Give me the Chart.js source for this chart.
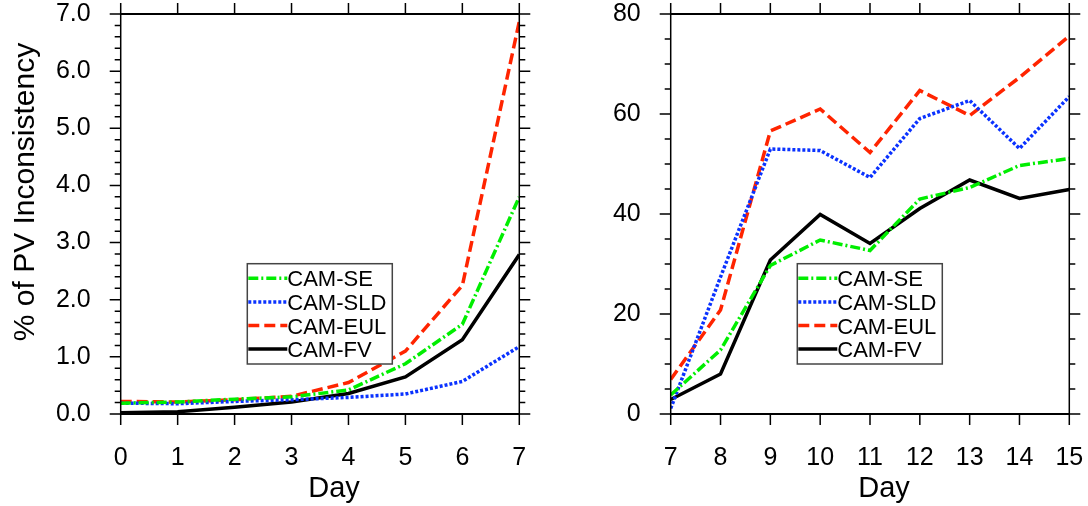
<!DOCTYPE html>
<html>
<head>
<meta charset="utf-8">
<script src="https://cdn.jsdelivr.net/npm/chart.js@4.4.0/dist/chart.umd.min.js"></script>
<style>
  html, body { margin: 0; padding: 0; background: #fff; }
  #wrap { position: relative; width: 1088px; height: 506px; }
  canvas { position: absolute; top: 0; }
  #early { left: 0; }
  #late { left: 544px; }
</style>
</head>
<body>
<div id="wrap">
  <canvas id="early" width="544" height="506"></canvas>
  <canvas id="late" width="544" height="506"></canvas>
</div>
<script>
// ==========================================
// Data
// ==========================================
const seriesNames = ['CAM-SE', 'CAM-SLD', 'CAM-EUL', 'CAM-FV'];

// days 0-7 (left panel, %)
const daysEarly = [0, 1, 2, 3, 4, 5, 6, 7];
const seEarly  = [0.19, 0.21, 0.26, 0.30, 0.42, 0.88, 1.57, 3.80];
const sldEarly = [0.19, 0.18, 0.22, 0.25, 0.29, 0.35, 0.57, 1.18];
const eulEarly = [0.22, 0.21, 0.25, 0.31, 0.55, 1.10, 2.25, 6.87];
const fvEarly  = [0.02, 0.04, 0.12, 0.21, 0.36, 0.65, 1.30, 2.79];
const yTicksEarly = [0, 1, 2, 3, 4, 5, 6, 7];

// days 7-15 (right panel, %)
const daysLate = [7, 8, 9, 10, 11, 12, 13, 14, 15];
const seLate  = [3.8, 12.8, 29.7, 34.8, 32.7, 43.0, 45.3, 49.7, 51.1];
const sldLate = [1.1, 27.4, 53.0, 52.7, 47.3, 59.1, 62.7, 53.1, 63.5];
const eulLate = [6.9, 20.8, 56.6, 61.0, 52.3, 64.7, 59.7, 67.3, 75.6];
const fvLate  = [2.9, 8.0, 30.8, 39.9, 34.1, 41.1, 46.8, 43.1, 44.9];
const yTicksLate = [0, 20, 40, 60, 80];

// ==========================================
// Styles
// ==========================================
const FONT = '"Liberation Sans", Arial, Helvetica, sans-serif';
const lineStyles = [
  { color: '#00ee00', dash: [10, 3, 2, 3] },  // SE  dash-dot
  { color: '#0a32ff', dash: [3, 2] },         // SLD dotted
  { color: '#ff2400', dash: [11, 5] },        // EUL dashed
  { color: '#000000', dash: [] }              // FV  solid
];

function buildDatasets(days, seriesList) {
  return seriesList.map((vals, i) => ({
    label: seriesNames[i],
    data: vals.map((v, k) => ({ x: days[k], y: v })),
    borderColor: lineStyles[i].color,
    borderDash: lineStyles[i].dash,
    borderWidth: 3.5,
    pointRadius: 0,
    tension: 0,
    fill: false
  }));
}

// ==========================================
// Frame plugin: box, mirrored + minor ticks, legend, titles
// ==========================================
const framePlugin = {
  id: 'frame',
  afterDraw(chart, args, opts) {
    const { ctx, chartArea: a } = chart;
    const xs = chart.scales.x, ys = chart.scales.y;
    ctx.save();
    ctx.strokeStyle = '#000';
    ctx.lineWidth = 1.5;
    ctx.beginPath();
    // y ticks (major + minor), both sides
    const majors = ys.ticks.map(t => t.value);
    for (let v = ys.min; v <= ys.max + 1e-9; v += opts.yMinor) {
      const py = ys.getPixelForValue(v);
      const isMajor = majors.some(m => Math.abs(m - v) < 1e-6);
      const len = isMajor ? 11 : 6;
      ctx.moveTo(a.left - len, py); ctx.lineTo(a.left, py);
      ctx.moveTo(a.right, py); ctx.lineTo(a.right + len, py);
    }
    // x ticks, bottom and top
    xs.ticks.forEach(t => {
      const px = xs.getPixelForValue(t.value);
      ctx.moveTo(px, a.bottom); ctx.lineTo(px, a.bottom + 11);
      ctx.moveTo(px, a.top - 11); ctx.lineTo(px, a.top);
    });
    ctx.stroke();

    // plot box
    ctx.lineWidth = 1.5;
    ctx.beginPath();
    ctx.moveTo(a.left, a.top); ctx.lineTo(a.left, a.bottom);
    ctx.moveTo(a.right, a.top); ctx.lineTo(a.right, a.bottom);
    ctx.stroke();
    ctx.lineWidth = 2.2;
    ctx.beginPath();
    ctx.moveTo(a.left - 0.7, a.top); ctx.lineTo(a.right + 0.7, a.top);
    ctx.moveTo(a.left - 0.7, a.bottom); ctx.lineTo(a.right + 0.7, a.bottom);
    ctx.stroke();

    // legend
    const lg = opts.legend;
    ctx.fillStyle = '#fff';
    ctx.fillRect(lg.x, lg.y, lg.w, lg.h);
    ctx.strokeStyle = '#444';
    ctx.lineWidth = 1.5;
    ctx.strokeRect(lg.x, lg.y, lg.w, lg.h);
    ctx.font = '22px ' + FONT;
    ctx.textAlign = 'left';
    ctx.textBaseline = 'alphabetic';
    chart.data.datasets.forEach((ds, i) => {
      const ly = lg.y + lg.row0 + i * lg.rowH;
      ctx.save();
      ctx.strokeStyle = ds.borderColor;
      ctx.lineWidth = ds.borderWidth;
      ctx.setLineDash(ds.borderDash);
      ctx.beginPath();
      ctx.moveTo(lg.x + 1, ly);
      ctx.lineTo(lg.x + 40, ly);
      ctx.stroke();
      ctx.restore();
      ctx.fillStyle = '#000';
      ctx.fillText(ds.label, lg.x + 40, ly + 8);
    });

    // axis titles
    ctx.fillStyle = '#000';
    ctx.font = '29px ' + FONT;
    ctx.textAlign = 'center';
    ctx.fillText(opts.xTitle, opts.xTitleX, 497);
    if (opts.yTitle) {
      ctx.save();
      ctx.translate(34, 192);
      ctx.rotate(-Math.PI / 2);
      ctx.font = '30px ' + FONT;
      ctx.fillText(opts.yTitle, 0, 0);
      ctx.restore();
    }
    ctx.restore();
  }
};

// ==========================================
// Panel factory
// ==========================================
function makePanel(id, days, seriesList, yTicks, cfg) {
  const tickFont = { family: FONT, size: 25, lineHeight: 1.0 };
  return new Chart(document.getElementById(id), {
    type: 'line',
    data: { datasets: buildDatasets(days, seriesList) },
    options: {
      responsive: false,
      animation: false,
      devicePixelRatio: 1,
      layout: { padding: { left: 0, top: 14, right: cfg.padRight, bottom: 0 } },
      plugins: {
        legend: { display: false },
        tooltip: { enabled: false },
        frame: cfg.frame
      },
      scales: {
        x: {
          type: 'linear',
          min: days[0],
          max: days[days.length - 1],
          afterBuildTicks: s => { s.ticks = days.map(v => ({ value: v })); },
          afterFit: s => {
            s.height = 92;
            s.paddingLeft = 0; s.paddingRight = 0;
          },
          grid: { drawOnChartArea: false, drawTicks: true, tickLength: 11, color: 'rgba(0,0,0,0)' },
          border: { display: false },
          ticks: { font: tickFont, color: '#000', padding: 21, maxRotation: 0, autoSkip: false }
        },
        y: {
          type: 'linear',
          min: yTicks[0],
          max: yTicks[yTicks.length - 1],
          afterBuildTicks: s => { s.ticks = yTicks.map(v => ({ value: v })); },
          afterFit: s => {
            s.width = cfg.yWidth;
            s.paddingTop = 0; s.paddingBottom = 0;
          },
          grid: { drawOnChartArea: false, drawTicks: true, tickLength: 11, color: 'rgba(0,0,0,0)' },
          border: { display: false },
          ticks: {
            font: tickFont, color: '#000', padding: 19, autoSkip: false,
            callback: v => cfg.fmt(v)
          }
        }
      }
    },
    plugins: [framePlugin]
  });
}

makePanel('early', daysEarly, [seEarly, sldEarly, eulEarly, fvEarly], yTicksEarly, {
  padRight: 24.7,
  yWidth: 120.7,
  fmt: v => v.toFixed(1),
  frame: {
    yMinor: 0.2,
    xTitle: 'Day', xTitleX: 334,
    yTitle: '% of PV Inconsistency',
    legend: { x: 247.3, y: 263.7, w: 145, h: 100.3, row0: 14.6, rowH: 23.6 }
  }
});

makePanel('late', daysLate, [seLate, sldLate, eulLate, fvLate], yTicksLate, {
  padRight: 18.7,
  yWidth: 126.7,
  fmt: v => String(v),
  frame: {
    yMinor: 5,
    xTitle: 'Day', xTitleX: 340,
    yTitle: null,
    legend: { x: 253.3, y: 263.7, w: 145, h: 100.3, row0: 14.6, rowH: 23.6 }
  }
});
</script>
</body>
</html>
